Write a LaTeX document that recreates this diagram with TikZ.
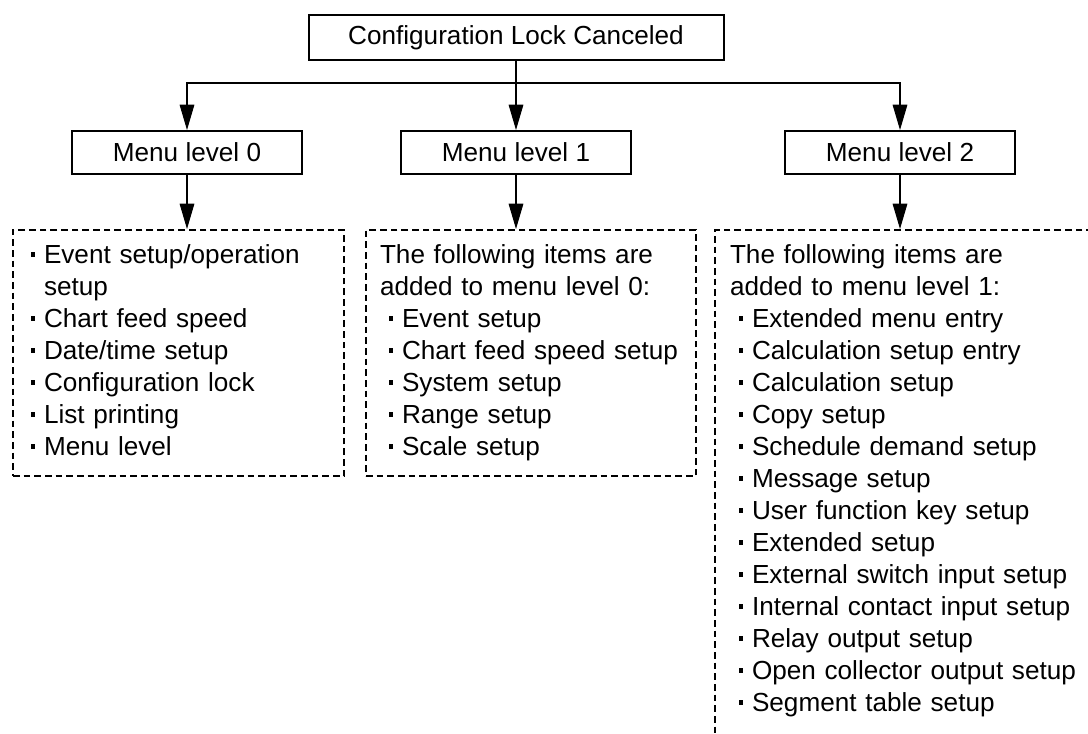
\documentclass[tikz,border=0pt]{standalone}
\usepackage{fontspec}
\setmainfont{Liberation Sans}
\usetikzlibrary{arrows.meta}
\newlength\upx
\setlength\upx{0.75pt}
\newcommand\itm{\makebox[22\upx][c]{\rule[0.25em]{0.17em}{0.17em}}}

\begin{document}
\begin{tikzpicture}[
   x=0.75pt,y=-0.75pt,
   font=\fontsize{19.6}{24}\selectfont,
   menubox/.style={draw,line width=1.5pt,minimum width=230\upx,minimum height=43\upx,
                   inner sep=0pt},
   listbox/.style={draw,line width=1.5pt,dash pattern=on 5pt off 3pt,anchor=north west,
                   align=left,inner xsep=15\upx,inner ysep=11\upx,
                   execute at begin node=\strut,execute at end node=\strut},
   conn/.style={line width=0.8pt},
   arr/.style={conn,-{Triangle[length=19pt,width=11pt]}}
 ]
  \clip (0,0) rectangle (1088,733);
  \node[menubox,minimum width=415\upx,minimum height=45\upx] (cfg) at (516,37.5)
       {Configuration Lock Canceled};
  \coordinate (bar) at (516,83);
  \node[menubox] (lvl0) at (187,152.5) {Menu level 0};
  \node[menubox] (lvl1) at (516,152.5) {Menu level 1};
  \node[menubox] (lvl2) at (900,152.5) {Menu level 2};
  \node[listbox,text width=313\upx,inner xsep=9\upx] (list0) at (12,229)
       {\itm Event setup/operation\\
        \hspace*{22\upx}setup\\
        \itm Chart feed speed\\
        \itm Date/time setup\\
        \itm Configuration lock\\
        \itm List printing\\
        \itm Menu level};
  \node[listbox,text width=302\upx,inner xsep=14\upx] (list1) at (365,229)
       {The following items are\\
        added to menu level 0:\\
        \itm Event setup\\
        \itm Chart feed speed setup\\
        \itm System setup\\
        \itm Range setup\\
        \itm Scale setup};
  % list of level 2 runs off the page
  \node[listbox,text width=420\upx] (list2) at (714,229)
       {The following items are\\
        added to menu level 1:\\
        \itm Extended menu entry\\
        \itm Calculation setup entry\\
        \itm Calculation setup\\
        \itm Copy setup\\
        \itm Schedule demand setup\\
        \itm Message setup\\
        \itm User function key setup\\
        \itm Extended setup\\
        \itm External switch input setup\\
        \itm Internal contact input setup\\
        \itm Relay output setup\\
        \itm Open collector output setup\\
        \itm Segment table setup\\};
  \draw[conn] (cfg.south) -- (bar);
  \draw[arr] (bar) -| (lvl0.north);
  \draw[arr] (bar) -- (lvl1.north);
  \draw[arr] (bar) -| (lvl2.north);
  \draw[arr] (lvl0.south) -- (lvl0.south |- list0.north);
  \draw[arr] (lvl1.south) -- (lvl1.south |- list1.north);
  \draw[arr] (lvl2.south) -- (lvl2.south |- list2.north);
\end{tikzpicture}
\end{document}
